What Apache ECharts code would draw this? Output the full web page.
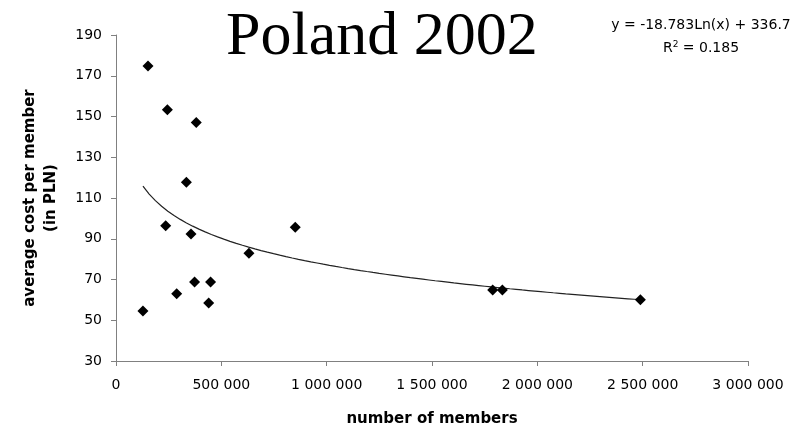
<!DOCTYPE html>
<html>
<head>
<meta charset="utf-8">
<script src="https://cdn.jsdelivr.net/npm/echarts@6/dist/echarts.min.js"></script>
<style>
  html, body { margin: 0; padding: 0; background: #fff; }
  #chart { width: 808px; height: 426px; }
</style>
</head>
<body>
<div id="chart"></div>
<script>
// Membership and average cost per member, Poland 2002
const members = [128000, 152000, 236000, 244000, 288000, 334000, 356000, 373000,
                 381000, 440000, 449000, 631000, 851000, 1788000, 1834000, 2489000];
const costPerMember = [54.5, 174.8, 96.4, 153.3, 63.0, 117.7, 92.3, 68.8,
                       147.0, 58.5, 68.8, 82.9, 95.6, 64.8, 64.8, 60.1];

// Logarithmic trend: y = a*ln(x) + b
const trendSlope = -18.783;
const trendIntercept = 336.7;
const trendEquation = 'y = -18.783Ln(x) + 336.7';
const trendFit = 'R{sup|2} = 0.185';

const xTicks = { min: 0, max: 3000000, step: 500000 };
const yTicks = { min: 30, max: 190, step: 20 };

const titleText = 'Poland 2002';
const xName = 'number of members';
const yName = 'average cost per member\n(in PLN)';

// Trend line sampled across the observed range of members
const xLo = Math.min(...members), xHi = Math.max(...members);
const trendPoints = [];
const steps = 80;
for (let i = 0; i <= steps; i++) {
  const x = xLo + (xHi - xLo) * i / steps;
  trendPoints.push([x, trendSlope * Math.log(x) + trendIntercept]);
}

function spaced(v) {
  return String(v).replace(/\B(?=(\d{3})+(?!\d))/g, ' ');
}

const sans = 'DejaVu Sans';
const chart = echarts.init(document.getElementById('chart'), null, { renderer: 'canvas' });
chart.setOption({
  animation: false,
  backgroundColor: '#fff',
  title: {
    text: titleText,
    left: 221,
    top: 2,
    textStyle: { fontFamily: 'Liberation Serif', fontWeight: 'normal', fontSize: 62, color: '#000' }
  },
  grid: { left: 116, right: 60, top: 35, bottom: 65, containLabel: false, outerBoundsMode: 'none' },
  xAxis: {
    type: 'value',
    min: xTicks.min, max: xTicks.max, interval: xTicks.step,
    name: xName,
    nameLocation: 'middle',
    nameGap: 51,
    nameTextStyle: { fontFamily: sans, fontWeight: 'bold', fontSize: 15, color: '#000' },
    axisLine: { lineStyle: { color: '#808080', width: 1 } },
    axisTick: { inside: false, length: 5, lineStyle: { color: '#808080' } },
    axisLabel: { margin: 17, fontFamily: sans, fontSize: 14, color: '#000', formatter: spaced },
    splitLine: { show: false }
  },
  yAxis: {
    type: 'value',
    min: yTicks.min, max: yTicks.max, interval: yTicks.step,
    name: yName,
    nameLocation: 'middle',
    nameGap: 54,
    nameTextStyle: { fontFamily: sans, fontWeight: 'bold', fontSize: 15, lineHeight: 21, color: '#000' },
    axisLine: { show: true, lineStyle: { color: '#808080', width: 1 } },
    axisTick: { show: true, inside: false, length: 5, lineStyle: { color: '#808080' } },
    axisLabel: { margin: 14, fontFamily: sans, fontSize: 14, color: '#000' },
    splitLine: { show: false }
  },
  graphic: [
    {
      type: 'text',
      x: 701,
      y: 25,
      style: {
        text: trendEquation,
        fontFamily: sans, fontSize: 14, fill: '#000',
        align: 'center', verticalAlign: 'middle'
      }
    },
    {
      type: 'text',
      x: 701,
      y: 48,
      style: {
        text: trendFit,
        fontFamily: sans, fontSize: 14, fill: '#000',
        align: 'center', verticalAlign: 'middle',
        rich: {
          sup: { fontFamily: sans, fontSize: 9, fill: '#000', padding: [0, 0, 7, 0] }
        }
      }
    }
  ],
  series: [
    {
      type: 'line',
      data: trendPoints,
      showSymbol: false,
      lineStyle: { color: '#222', width: 1.2 },
      z: 2,
      silent: true
    },
    {
      type: 'scatter',
      data: members.map((m, i) => [m, costPerMember[i]]),
      symbol: 'diamond',
      symbolSize: 11,
      itemStyle: { color: '#000', opacity: 1 },
      z: 3
    }
  ]
});
</script>
</body>
</html>
